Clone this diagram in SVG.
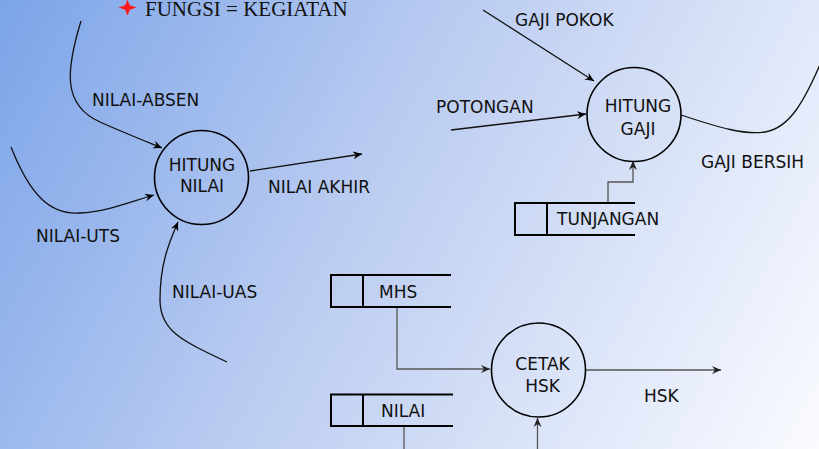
<svg xmlns="http://www.w3.org/2000/svg" width="819" height="449" viewBox="0 0 819 449">
<defs>
<linearGradient id="bg" gradientUnits="userSpaceOnUse" x1="0" y1="0" x2="819" y2="449">
<stop offset="0" stop-color="#7ca4e9"/>
<stop offset="0.45" stop-color="#bccdf1"/>
<stop offset="1" stop-color="#fafbff"/>
</linearGradient>
<marker id="arr" markerWidth="10" markerHeight="8" refX="9" refY="4" orient="auto" markerUnits="userSpaceOnUse">
<path d="M0,0 L9,4 L0,8 L3,4 Z" fill="#000"/>
</marker>
<marker id="arrg" markerWidth="10" markerHeight="8" refX="9" refY="4" orient="auto" markerUnits="userSpaceOnUse">
<path d="M0,0 L9,4 L0,8 L3,4 Z" fill="#222"/>
</marker>
</defs>
<style>
.t{font-family:"DejaVu Sans",Verdana,sans-serif;font-size:17px;fill:#111}
.c{text-anchor:middle}
.p{fill:none;stroke:#000;stroke-width:1.6}
.f{fill:none;stroke:#111;stroke-width:1.3}
.g{fill:none;stroke:#555;stroke-width:1.3}
.s{fill:none;stroke:#000;stroke-width:2}
</style>
<rect width="819" height="449" fill="url(#bg)"/>

<g id="title">
<path d="M127.5,-0.5 L129.8,5.2 L136.5,7.5 L129.8,9.8 L127.5,15.5 L125.2,9.8 L118.5,7.5 L125.2,5.2 Z" fill="#ff1a1a"/>
<text x="145" y="16" style="font-family:'Liberation Serif','Times New Roman',serif;font-size:21px;fill:#111">FUNGSI = KEGIATAN</text>
</g>

<g id="connectors">
<path class="f" d="M81,21 C66,70 62,105 100,122 C120,131 140,139 162,148" marker-end="url(#arr)"/>
<path class="f" d="M11,147 C30,195 50,215 80,213 C105,212 130,202 154,195" marker-end="url(#arr)"/>
<path class="f" d="M227,362 C180,340 160,330 160,300 C160,265 168,245 178,222" marker-end="url(#arr)"/>
<path class="f" d="M250,171 L362,154" marker-end="url(#arr)"/>
<path class="f" d="M483,10 L594,81" marker-end="url(#arr)"/>
<path class="f" d="M451,130 L586,114" marker-end="url(#arr)"/>
<path class="f" d="M681,115 C720,128 745,135 765,132 C790,128 805,100 822,60"/>
<path class="g" d="M608,203 L608,182 L633,182 L633,161" marker-end="url(#arrg)"/>
<path class="g" d="M397,307 L397,369 L490,369" marker-end="url(#arrg)"/>
<path class="g" d="M404,426 L404,449"/>
<path class="g" d="M537.5,449 L537.5,418" marker-end="url(#arrg)"/>
<path class="g" d="M586,370 L721,370" marker-end="url(#arrg)"/>
</g>

<g id="labels">
<text class="t" x="92" y="106">NILAI-ABSEN</text>
<text class="t" x="36" y="242">NILAI-UTS</text>
<text class="t" x="172" y="298">NILAI-UAS</text>
<text class="t" x="268" y="193">NILAI AKHIR</text>
<text class="t" x="515" y="26">GAJI POKOK</text>
<text class="t" x="436" y="113">POTONGAN</text>
<text class="t" x="701" y="168">GAJI BERSIH</text>
<text class="t" x="644" y="402">HSK</text>
</g>

<g id="hitung-nilai">
<circle class="p" cx="201.5" cy="177.5" r="47"/>
<text class="t c" x="202" y="171">HITUNG</text>
<text class="t c" x="202" y="192">NILAI</text>
</g>

<g id="hitung-gaji">
<circle class="p" cx="634" cy="114.5" r="47"/>
<text class="t c" x="638" y="112">HITUNG</text>
<text class="t c" x="638" y="135">GAJI</text>
</g>

<g id="cetak-hsk">
<circle class="p" cx="538.5" cy="370" r="47"/>
<text class="t c" x="542.5" y="370">CETAK</text>
<text class="t c" x="542.5" y="392">HSK</text>
</g>

<g id="store-tunjangan">
<path class="s" d="M635,203 L515,203 L515,235 L635,235 M547,203 L547,235"/>
<text class="t" x="557" y="225">TUNJANGAN</text>
</g>

<g id="store-mhs">
<path class="s" d="M451,275 L331,275 L331,307 L451,307 M363,275 L363,307"/>
<text class="t" x="379" y="298">MHS</text>
</g>

<g id="store-nilai">
<path class="s" d="M453,394.5 L331,394.5 L331,426 L453,426 M363,394.5 L363,426"/>
<text class="t" x="381" y="417">NILAI</text>
</g>
</svg>
